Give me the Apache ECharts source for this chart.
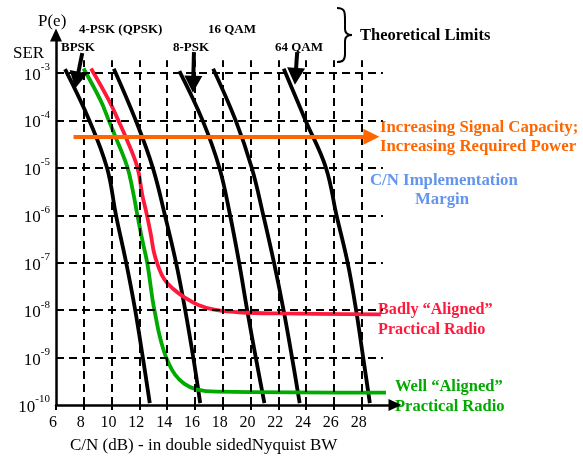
<!DOCTYPE html>
<html>
<head>
<meta charset="utf-8">
<script src="https://cdn.jsdelivr.net/npm/echarts@6/dist/echarts.min.js"></script>
<style>
  html, body { margin: 0; padding: 0; background: #fff; }
  #chart { width: 583px; height: 457px; }
</style>
</head>
<body>
<div id="chart"></div>
<script>
// x = C/N in dB, y = log10(SER)
const xLabels = [6, 8, 10, 12, 14, 16, 18, 20, 22, 24, 26, 28]
const yLabels = [-10, -9, -8, -7, -6, -5, -4, -3]
const gridX = [8, 10, 12, 14, 16, 18, 20, 22, 24, 26, 28]
const gridY = [-9, -8, -7, -6, -5, -4, -3]

// theoretical limits
const bpsk = [[6.65, -2.92], [8.4, -4], [9.67, -5], [10.32, -6], [11.05, -7], [11.7, -8], [12.25, -9], [12.75, -9.96]]
const qpsk = [[10.16, -2.91], [11.74, -4], [12.97, -5], [13.84, -6], [14.64, -7], [15.3, -8], [15.88, -9], [16.38, -9.96]]
const psk8 = [[14.88, -2.96], [16.55, -4], [17.76, -5], [18.53, -6], [19.18, -7], [19.76, -8], [20.38, -9], [21.0, -9.96]]
const qam16 = [[17.31, -2.91], [18.93, -4], [20.09, -5], [20.92, -6], [21.69, -7], [22.38, -8], [22.99, -9], [23.54, -9.96]]
const qam64 = [[22.39, -2.91], [23.96, -4], [25.43, -5], [26.19, -6], [26.99, -7], [27.6, -8], [28.11, -9], [28.59, -9.96]]

// practical radios
const badRadio = [[8.52, -2.905], [9.8, -3.573], [10.5, -4.01], [11.01, -4.345], [11.85, -4.98], [12.21, -5.57], [12.54, -5.99],
  [12.83, -6.41], [13.04, -6.77], [13.33, -7.05], [13.77, -7.34], [14.42, -7.55], [15.3, -7.74], [16.24, -7.89],
  [17.4, -7.99], [19.36, -8.05], [22.27, -8.07], [29.38, -8.09]]
const goodRadio = [[7.98, -2.905], [9.2, -3.573], [9.81, -4.01], [10.28, -4.345], [11.13, -4.98], [11.52, -5.47], [11.86, -6.0],
  [12.21, -6.52], [12.57, -7.01], [12.95, -7.78], [13.19, -8.16], [13.44, -8.52], [13.73, -8.83], [14.06, -9.09],
  [14.57, -9.36], [15.22, -9.55], [16.09, -9.67], [17.55, -9.72], [29.75, -9.74]]

// annotation arrows: [from, to]
const limitArrows = [
  [[7.89, -2.58], [7.5, -3.15]],
  [[11.08, -2.16], [10.56, -2.84]],
  [[15.93, -2.56], [15.87, -3.24]],
  [[19.0, -2.16], [18.88, -3.55]],
  [[23.36, -2.56], [23.24, -3.07]]
]
const capacityArrow = [[7.26, -4.345], [28.7, -4.345]]
const marginArrow = [[30.84, -5.42], [11.85, -6.03]]

const FONT = 'Liberation Serif'
const chart = echarts.init(document.getElementById('chart'))

const seg = (a, b) => [{ coord: a }, { coord: b }]

function curve(name, data, color) {
  return {
    name: name,
    type: 'line',
    data: data,
    showSymbol: false,
    smooth: 0.4,
    clip: false,
    lineStyle: { color: color, width: 3.8 },
    z: 3
  }
}

function marks(lines, style, symSize, z) {
  return {
    type: 'line',
    data: [],
    clip: false,
    silent: true,
    z: z,
    markLine: {
      silent: true,
      animation: false,
      symbol: symSize ? ['none', 'triangle'] : ['none', 'none'],
      symbolSize: symSize || 1,
      label: { show: false },
      lineStyle: style,
      emphasis: { disabled: true },
      data: lines
    }
  }
}

const gridLines = gridX.map(x => seg([x, -10], [x, -2.73]))
  .concat(gridY.map(y => seg([6, y], [29.53, y])))

function bez(x1, y1, cx1, cy1, cx2, cy2, x2, y2) {
  return {
    type: 'bezierCurve',
    shape: { x1: x1, y1: y1, cpx1: cx1, cpy1: cy1, cpx2: cx2, cpy2: cy2, x2: x2, y2: y2 },
    style: { stroke: '#000', lineWidth: 2, fill: null }
  }
}

const option = {
  animation: false,
  grid: { left: 56, right: 188, top: 35, bottom: 52, outerBoundsMode: 'none' },
  xAxis: {
    type: 'value',
    min: 6,
    max: 30.4,
    splitLine: { show: false },
    axisLine: {
      lineStyle: { color: '#000', width: 2.5 },
      symbol: ['none', 'triangle'],
      symbolSize: [12, 13]
    },
    axisTick: { customValues: xLabels, length: 5, lineStyle: { color: '#000', width: 2 } },
    axisLabel: {
      customValues: xLabels,
      color: '#000',
      fontFamily: FONT,
      fontSize: 16,
      margin: 10,
      padding: [0, 6, 0, 0]
    }
  },
  yAxis: {
    type: 'value',
    min: -10,
    max: -2.2,
    splitLine: { show: false },
    axisLine: {
      lineStyle: { color: '#000', width: 2.5 },
      symbol: ['none', 'triangle'],
      symbolSize: [12, 13]
    },
    axisTick: { show: false },
    axisLabel: {
      customValues: yLabels,
      margin: 6,
      formatter: v => '{a|10}{b|' + v + '}',
      rich: {
        a: { fontFamily: FONT, fontSize: 17, color: '#000', lineHeight: 22, verticalAlign: 'bottom' },
        b: { fontFamily: FONT, fontSize: 11, color: '#000', verticalAlign: 'top' }
      }
    }
  },
  series: [
    marks(gridLines, { color: '#000', width: 2, type: [8, 5] }, null, 1),
    curve('BPSK', bpsk, '#000'),
    curve('QPSK', qpsk, '#000'),
    curve('8-PSK', psk8, '#000'),
    curve('16 QAM', qam16, '#000'),
    curve('64 QAM', qam64, '#000'),
    curve('Badly Aligned', badRadio, '#ff1a3c'),
    curve('Well Aligned', goodRadio, '#00aa00'),
    marks(limitArrows.map(a => seg(a[0], a[1])), { color: '#000', width: 4, type: 'solid' }, [18, 17], 5),
    marks([seg(capacityArrow[0], capacityArrow[1])], { color: '#ff6600', width: 4, type: 'solid' }, [16, 16], 6),
    marks([seg(marginArrow[0], marginArrow[1])], { color: '#6495ed', width: 2, type: 'solid' }, [14, 12], 7)
  ],
  graphic: [
    { type: 'text', left: 38, top: 13, style: { text: 'P(e)', font: '17px "Liberation Serif"', fill: '#000' } },
    { type: 'text', left: 13, top: 45, style: { text: 'SER', font: '17px "Liberation Serif"', fill: '#000' } },
    { type: 'text', left: 79, top: 23, style: { text: '4-PSK (QPSK)', font: 'bold 13px "Liberation Serif"', fill: '#000' } },
    { type: 'text', left: 61, top: 41, style: { text: 'BPSK', font: 'bold 13px "Liberation Serif"', fill: '#000' } },
    { type: 'text', left: 173, top: 41, style: { text: '8-PSK', font: 'bold 13px "Liberation Serif"', fill: '#000' } },
    { type: 'text', left: 208, top: 23, style: { text: '16 QAM', font: 'bold 13px "Liberation Serif"', fill: '#000' } },
    { type: 'text', left: 275, top: 41, style: { text: '64 QAM', font: 'bold 13px "Liberation Serif"', fill: '#000' } },
    bez(337, 8, 345, 8, 345, 12, 345, 20),
    { type: 'line', shape: { x1: 345, y1: 20, x2: 345, y2: 29 }, style: { stroke: '#000', lineWidth: 2 } },
    bez(345, 29, 345, 33, 347, 35, 352, 35),
    bez(352, 35, 347, 35, 345, 37, 345, 41),
    { type: 'line', shape: { x1: 345, y1: 41, x2: 345, y2: 54 }, style: { stroke: '#000', lineWidth: 2 } },
    bez(345, 54, 345, 60, 343, 62, 337, 62),
    { type: 'text', left: 360, top: 27, style: { text: 'Theoretical Limits', font: 'bold 16.5px "Liberation Serif"', fill: '#000' } },
    { type: 'text', left: 380, top: 118, style: { text: 'Increasing Signal Capacity;\nIncreasing Required Power', font: 'bold 16.8px "Liberation Serif"', lineHeight: 19, fill: '#ff6600' } },
    { type: 'text', left: 370, top: 172, style: { text: 'C/N Implementation', font: 'bold 16.8px "Liberation Serif"', fill: '#6495ed' } },
    { type: 'text', left: 415, top: 191, style: { text: 'Margin', font: 'bold 16.8px "Liberation Serif"', fill: '#6495ed' } },
    { type: 'text', left: 378, top: 300, style: { text: 'Badly \u201cAligned\u201d\nPractical Radio', font: 'bold 16.2px "Liberation Serif"', lineHeight: 20, fill: '#ff1a3c' } },
    { type: 'text', left: 395, top: 377, style: { text: 'Well \u201cAligned\u201d\nPractical Radio', font: 'bold 16.5px "Liberation Serif"', lineHeight: 20, fill: '#00aa00' } },
    { type: 'text', left: 70, top: 437, style: { text: 'C/N (dB) - in double sidedNyquist BW', font: '17px "Liberation Serif"', fill: '#000' } }
  ]
}

chart.setOption(option)
</script>
</body>
</html>
